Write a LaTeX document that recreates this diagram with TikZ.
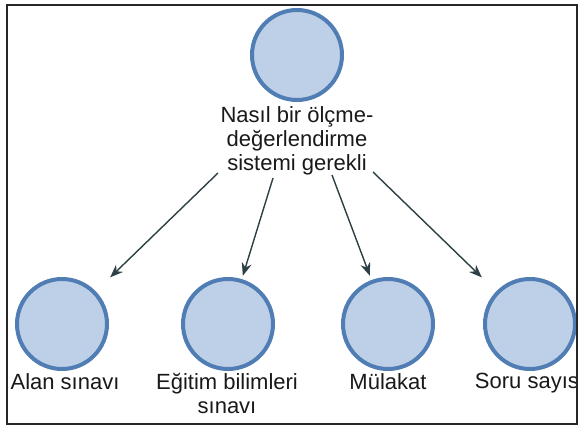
\documentclass[tikz,border=0pt]{standalone}
\usepackage{fontspec}
\setmainfont{Liberation Sans}
\usetikzlibrary{arrows.meta}
\definecolor{ballfill}{RGB}{190,208,232}
\definecolor{balledge}{RGB}{80,125,180}
\definecolor{arrowcol}{RGB}{45,64,68}
\definecolor{txt}{RGB}{25,25,25}
\tikzset{
  ball/.style={rectangle, minimum size=96pt, inner sep=0pt,
    path picture={\draw[balledge, fill=ballfill, line width=4pt]
      (path picture bounding box.center) circle (45pt);}},
  lbl/.style={text=txt, font=\fontsize{22}{24}\selectfont, align=center, inner sep=0pt},
  conn/.style={arrowcol, line width=1.4pt, -{Stealth[length=13pt,width=10pt]}},
  frame/.style={draw=black!85, line width=1.6pt}
}
\begin{document}
\begin{tikzpicture}[x=1pt,y=1pt]
\useasboundingbox (0,0) rectangle (580,429);
\fill[white] (0,0) rectangle (580,429);
\begin{scope}
\clip (7,5) rectangle (577,424);
\node[ball] (top) at (297,374) {};
\node[lbl] (toplbl) at (297,288) {Nasıl bir ölçme-\\değerlendirme\\sistemi gerekli};
\node[ball] (c1) at (62,105) {};
\node[ball] (c2) at (228,105) {};
\node[ball] (c3) at (388,105) {};
\node[ball] (c4) at (530,105) {};
\node[lbl, anchor=north] (l1) at (65,56) {Alan sınavı};
\node[lbl, anchor=north] (l2) at (227,56) {Eğitim bilimleri\\sınavı};
\node[lbl, anchor=north] (l3) at (388,56) {Mülakat};
\node[lbl, anchor=north] (l4) at (530,56) {Soru sayısı};
\coordinate (s1) at (218,256);
\coordinate (s2) at (273,251);
\coordinate (s3) at (332,254);
\coordinate (s4) at (373,257);
\draw[conn] (s1) -- (c1);
\draw[conn] (s2) -- (c2);
\draw[conn] (s3) -- (c3);
\draw[conn] (s4) -- (c4);
\end{scope}
\draw[frame] (7,5) rectangle (577,424);
\end{tikzpicture}
\end{document}
